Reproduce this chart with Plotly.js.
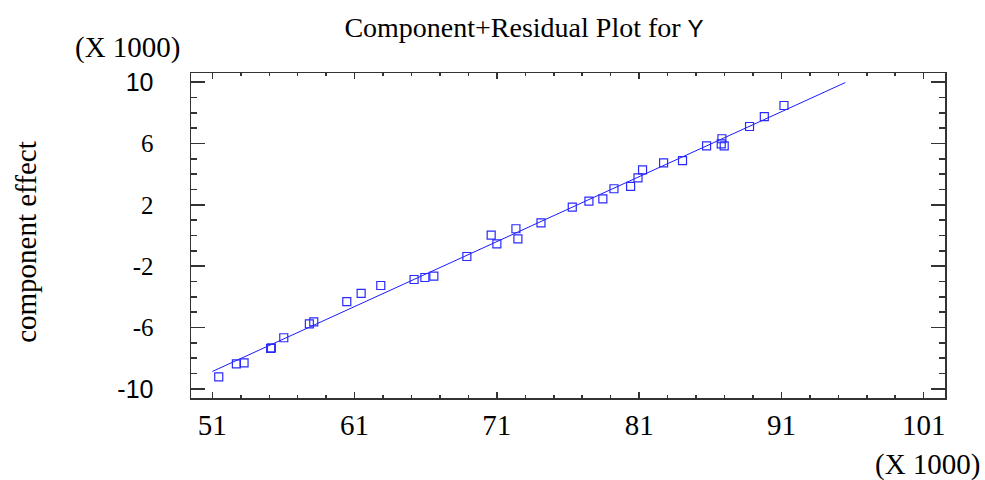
<!DOCTYPE html>
<html>
<head>
<meta charset="utf-8">
<script src="https://cdn.plot.ly/plotly-3.0.1.min.js"></script>
<style>html,body{margin:0;padding:0;background:#fff;}#chart{width:985px;height:480px;}</style>
</head>
<body>
<div id="chart"></div>
<script>
// x values (X 1000)
const xVals = [51.45, 52.69, 53.23, 55.10, 55.15, 56.02, 57.82, 58.13, 60.45, 61.46, 62.84, 65.18, 65.94, 66.57, 68.89,
  70.60, 71.00, 72.34, 72.48, 74.10, 76.30, 77.47, 78.45, 79.23, 80.40, 80.92, 81.24, 82.72, 84.05, 85.74,
  86.82, 86.77, 86.98, 88.76, 89.80, 91.18];
// component effect values (X 1000)
const yVals = [-9.22, -8.37, -8.31, -7.37, -7.33, -6.67, -5.76, -5.63, -4.31, -3.78, -3.26, -2.87, -2.74, -2.65, -1.37,
  0.02, -0.54, 0.44, -0.22, 0.83, 1.85, 2.24, 2.39, 3.05, 3.20, 3.76, 4.28, 4.74, 4.89, 5.85,
  6.31, 5.98, 5.85, 7.11, 7.76, 8.48];
// fitted line end points
const lineX = [51.0, 95.5];
const lineY = [-8.87, 9.98];
// tick labels
const xTickVals = [51, 61, 71, 81, 91, 101];
const xTickText = ['51', '61', '71', '81', '91', '101'];
const yTickVals = [-10, -6, -2, 2, 6, 10];
const yTickText = ['-10', '-6', '-2', '2', '6', '10'];

const serif = "Liberation Serif, Times New Roman, serif";
const sans = "Liberation Sans, Arial, sans-serif";

const yTickHtml = yTickText.map(t => (t === '10' || t === '-10')
  ? '<span style="font-family:' + sans + ';font-size:25px">' + t + '</span>' : t);

const traces = [
  {x: lineX, y: lineY, mode: 'lines', line: {color: '#1a1aff', width: 1}, hoverinfo: 'skip'},
  {x: xVals, y: yVals, mode: 'markers',
   marker: {symbol: 'square-open', size: 8, color: '#2a2aff', line: {width: 1.2}}}
];

const axisCommon = {
  showgrid: false, zeroline: false, showline: true, linecolor: '#333', linewidth: 1.5,
  mirror: 'ticks', ticks: 'inside', tickcolor: '#333', tickwidth: 1.5
};

const layout = {
  width: 985, height: 480,
  margin: {l: 191, r: 40, t: 73, b: 82},
  paper_bgcolor: '#fff', plot_bgcolor: '#fff',
  showlegend: false,
  title: {text: 'Component+Residual Plot for <span style="font-family:Liberation Sans, Arial, sans-serif;font-size:24px">Y</span>',
          font: {family: serif, size: 28, color: '#000'}, x: 0.532, xanchor: 'center', y: 0.944, yanchor: 'middle'},
  xaxis: Object.assign({}, axisCommon, {
    range: [49.5, 102.5], tickmode: 'array', tickvals: xTickVals, ticktext: xTickText, ticklen: 6,
    minor: {dtick: 2, tick0: 51, ticks: 'inside', ticklen: 3, tickcolor: '#333', tickwidth: 1.5},
    tickfont: {family: serif, size: 29, color: '#000'}, ticklabelstandoff: 1
  }),
  yaxis: Object.assign({}, axisCommon, {
    range: [-10.6, 10.6], tickmode: 'array', tickvals: yTickVals, ticktext: yTickHtml, ticklen: 14,
    minor: {dtick: 1, tick0: -10, ticks: 'inside', ticklen: 6, tickcolor: '#333', tickwidth: 1.5},
    tickfont: {family: serif, size: 25, color: '#000'}, ticklabelstandoff: 31
  }),
  annotations: [
    {text: 'component effect', xref: 'paper', yref: 'paper', x: -0.219, y: 0.48, textangle: -90,
     showarrow: false, font: {family: serif, size: 29, color: '#000'}, xanchor: 'center', yanchor: 'middle'},
    {text: '(X 1000)', xref: 'paper', yref: 'paper', x: -0.0836, y: 1.077, showarrow: false,
     font: {family: serif, size: 29, color: '#000'}, xanchor: 'center', yanchor: 'middle'},
    {text: '(X 1000)', xref: 'paper', yref: 'paper', x: 0.977, y: -0.206, showarrow: false,
     font: {family: serif, size: 29, color: '#000'}, xanchor: 'center', yanchor: 'middle'}
  ]
};

Plotly.newPlot('chart', traces, layout, {displayModeBar: false, staticPlot: true});
</script>
</body>
</html>
